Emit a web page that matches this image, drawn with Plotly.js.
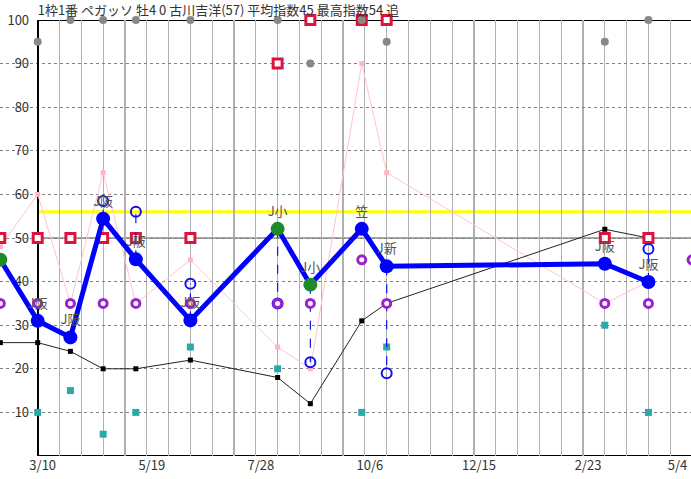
<!DOCTYPE html>
<html><head><meta charset="utf-8">
<script src="https://cdn.plot.ly/plotly-3.0.1.min.js"></script>
<style>html,body{margin:0;padding:0;overflow:hidden;background:#fff}</style>
</head><body>
<div id="chart" style="width:700px;height:479px"></div>
<script>
// ---- data (days counted from 3/10) ----
const titleText = "1枠1番 ペガッソ 牡4 0 古川吉洋(57) 平均指数45 最高指数54 追";
const raceDays   = [-24, 0, 21, 42, 63, 98, 154, 175, 208, 224, 364, 392, 420];
const mainIndex  = [45, 31, 27.2, 54.4, 45.1, 31.1, 52.1, 39.3, 52.1, 43.5, 44.1, 39.9, null];
const mainGreen  = [true, false, false, false, false, false, true, true, false, false, false, false, false];
const raceLabels = ["", "J阪", "J阪", "J阪", "J阪", "J阪", "J小", "J小", "笠", "J新", "J阪", "J阪", ""];
const subIndex   = [null, null, null, 58.5, 56, 39.5, 35, 21.5, null, 19, null, 47.5, null];
const grayIndex  = [null, 95, 100, 100, 100, 100, 100, 90, 100, 95, 95, 100, null];
const redIndex   = [50, 50, 50, 50, 50, 50, 90, 100, 100, 100, 50, 50, null];
const purpleIndex= [35, 35, 35, 35, 35, 35, 35, 35, 45, 35, 35, 35, 45];
const tealIndex  = [null, 10, 15, 5, 10, 25, 20, null, 10, 25, 30, 10, null];
const blackIndex = [26, 26, 24, 20, 20, 22, 18, 12, 31, 35, 52, 50, null];
const pinkIndex  = [48, 60, 35, 65, 35, 45, 25, 20, 90, 65, 35, 40, null];
const standardLine = 56;
const tickDays   = [0, 70, 140, 210, 280, 350, 420];
const tickLabels = ["3/10", "5/19", "7/28", "10/6", "12/15", "2/23", "5/4"];
const yTicks     = [10, 20, 30, 40, 50, 60, 70, 80, 90, 100];

// ---- build axis grid (every 14 days) ----
const gridVals = [], gridText = [];
for (let d = 0; d <= 420; d += 14) {
  gridVals.push(d);
  const k = tickDays.indexOf(d);
  let t = k >= 0 ? tickLabels[k] : "";
  if (k === tickDays.length - 1) t = t + "\u3000\u3000\u3000"; // last label sits at the window edge
  gridText.push(t);
}
// connectors between main index and second index
const connX = [], connY = [];
raceDays.forEach((d, i) => {
  if (subIndex[i] != null && mainIndex[i] != null) {
    connX.push(d, d, null); connY.push(mainIndex[i], subIndex[i], null);
  }
});

const FONT = "Noto Sans CJK JP, sans-serif";
const axisPos = 37.7 / 700;

const traces = [
  {x: raceDays, y: pinkIndex, mode: "lines+markers",
   line: {color: "#ffc4cc", width: 1}, marker: {symbol: "square", size: 5, color: "#ffb6c1"}, hoverinfo: "skip"},
  {x: raceDays, y: blackIndex, mode: "lines+markers",
   line: {color: "#222", width: 1}, marker: {symbol: "square", size: 5, color: "#000"}, hoverinfo: "skip"},
  {x: raceDays, y: tealIndex, mode: "markers",
   marker: {symbol: "square", size: 7, color: "#2aa9a6"}, hoverinfo: "skip"},
  {x: raceDays, y: redIndex, mode: "markers", cliponaxis: false,
   marker: {symbol: "square", size: 9, color: "#ffffff", line: {color: "#dc143c", width: 3}}, hoverinfo: "skip"},
  {x: raceDays, y: grayIndex, mode: "markers", cliponaxis: false,
   marker: {symbol: "circle", size: 8, color: "#888"}, hoverinfo: "skip"},
  {x: connX, y: connY, mode: "lines",
   line: {color: "#1010ee", width: 1.2, dash: "dash"}, hoverinfo: "skip"},
  {x: raceDays, y: subIndex, mode: "markers",
   marker: {symbol: "circle-open", size: 10, color: "#1010ee", line: {width: 2}}, hoverinfo: "skip"},
  {x: raceDays, y: purpleIndex, mode: "markers",
   marker: {symbol: "circle", size: 8, color: "#ffffff", line: {color: "#9b22cc", width: 3}}, hoverinfo: "skip"},
  {x: raceDays, y: mainIndex, mode: "lines+markers+text", text: raceLabels,
   textposition: "top center", textfont: {family: FONT, size: 13, color: "#555"},
   line: {color: "#0000ff", width: 5},
   marker: {size: 14, color: mainGreen.map(g => g ? "#1f8a2a" : "#0000ff")}, hoverinfo: "skip"}
];

const layout = {
  width: 700, height: 479, autosize: false,
  margin: {l: 0, r: 0, t: 20, b: 23, pad: 0},
  paper_bgcolor: "#fff", plot_bgcolor: "#fff",
  showlegend: false,
  font: {family: FONT, size: 13, color: "#333"},
  title: {text: titleText, xref: "paper", x: axisPos, xanchor: "left",
          yref: "container", y: 1 - 10/479, yanchor: "middle",
          font: {family: FONT, size: 13, color: "#333"}},
  xaxis: {range: [-24.2, 425.1], tickmode: "array", tickvals: gridVals, ticktext: gridText,
          showgrid: true, gridcolor: "#b0b0b0", gridwidth: 1.2, zeroline: false, showline: false,
          ticks: "", ticklabelshift: 5, ticklabeloverflow: "allow",
          tickfont: {family: FONT, size: 13, color: "#333"}, layer: "below traces"},
  yaxis: {range: [0, 100], anchor: "free", position: axisPos, tickmode: "array", tickvals: yTicks,
          showgrid: true, gridcolor: "#808080", griddash: "dot", gridwidth: 1, zeroline: false,
          showline: true, linecolor: "#000", linewidth: 2, ticks: "", ticklabelstandoff: 5,
          tickfont: {family: FONT, size: 13, color: "#333"}, layer: "below traces"},
  shapes: [
    {type: "rect", xref: "paper", yref: "paper", x0: 0, x1: axisPos, y0: 0, y1: 1,
     fillcolor: "#fff", line: {width: 0}, layer: "between"},
    {type: "line", xref: "paper", yref: "y", x0: axisPos, x1: 1, y0: 50, y1: 50,
     line: {color: "#8a8a8a", width: 1.5}, layer: "between"},
    {type: "line", xref: "paper", yref: "y", x0: axisPos, x1: 1, y0: standardLine, y1: standardLine,
     line: {color: "#ffff00", width: 3}, layer: "between"},
    {type: "line", xref: "paper", yref: "y", x0: axisPos, x1: 1, y0: 100, y1: 100,
     line: {color: "#000", width: 2}, layer: "between"},
    {type: "line", xref: "paper", yref: "y", x0: axisPos, x1: 1, y0: 0, y1: 0,
     line: {color: "#000", width: 2}, layer: "between"}
  ]
};

Plotly.newPlot("chart", traces, layout, {staticPlot: true, displayModeBar: false});
</script>
</body></html>
